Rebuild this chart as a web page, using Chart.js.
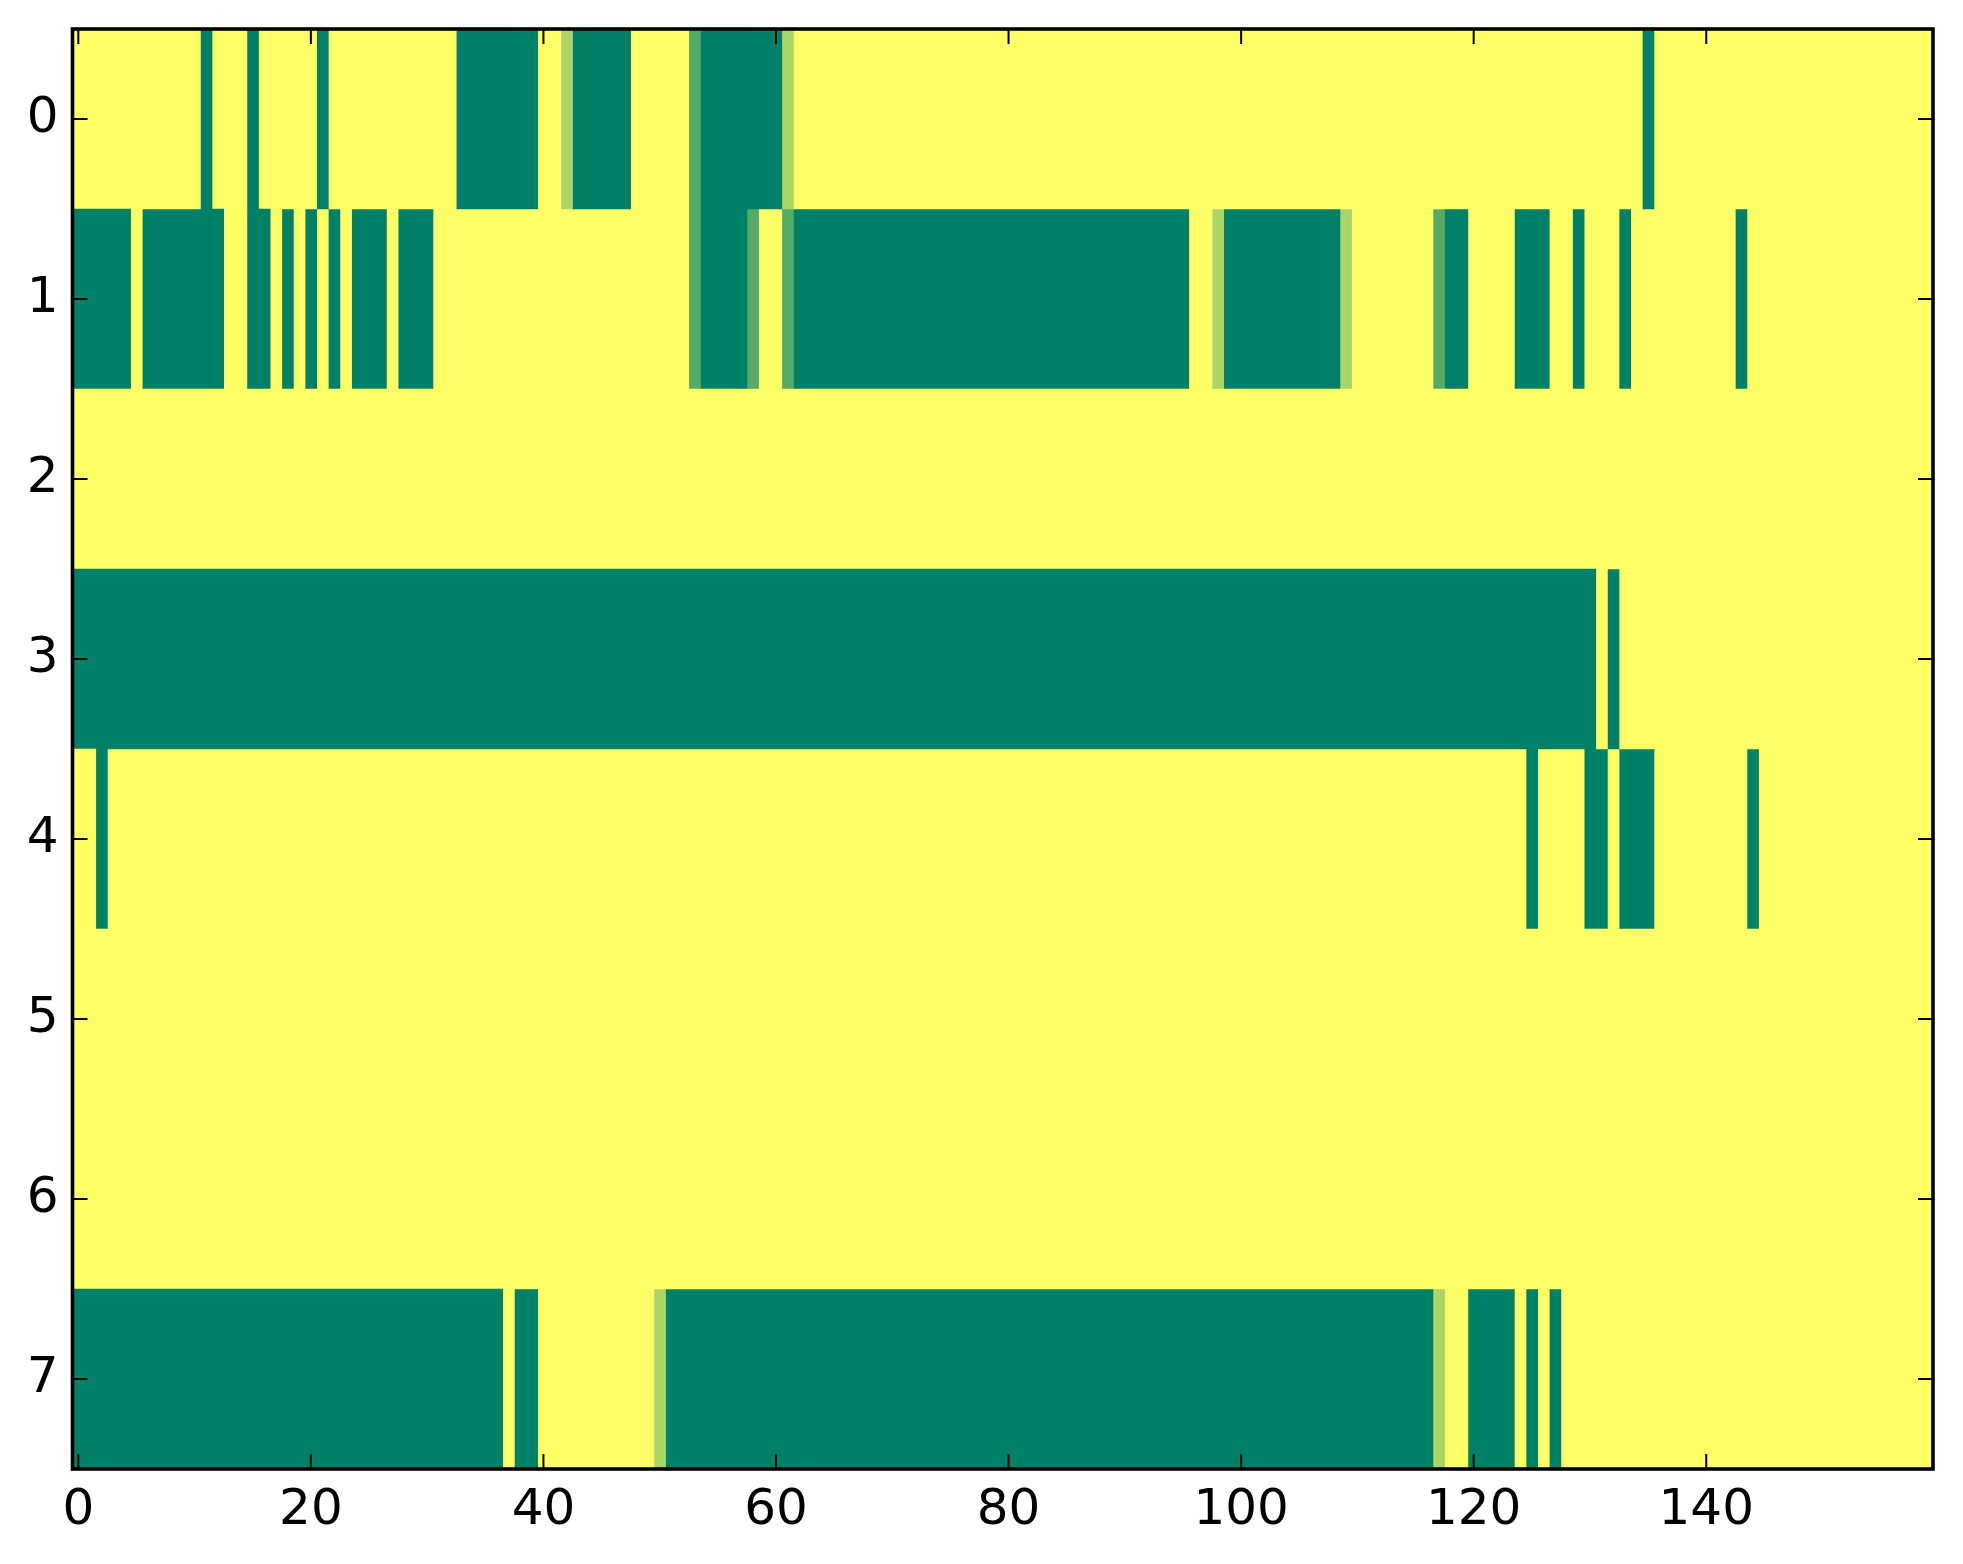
<!DOCTYPE html>
<html>
<head>
<meta charset="utf-8">
<script src="https://cdn.jsdelivr.net/npm/chart.js@4/dist/chart.umd.min.js"></script>
<style>
  html, body { margin: 0; padding: 0; background: #ffffff; }
  #wrap { width: 1963px; height: 1564px; position: relative; }
</style>
</head>
<body>
<div id="wrap"><canvas id="c"></canvas></div>
<script>
// Row labels (y categories) and x tick labels
const rowLabels = ['0', '1', '2', '3', '4', '5', '6', '7'];
const xTicks = [0, 20, 40, 60, 80, 100, 120, 140];
const xMin = -0.5, xMax = 159.5;

// Cell values per row (160 columns each)
const row0 = [
  1,1,1,1,1,1,1,1,1,1, 1,0,1,1,1,0,1,1,1,1,
  1,0,1,1,1,1,1,1,1,1, 1,1,1,0,0,0,0,0,0,0,
  1,1,.67,0,0,0,0,0,1,1, 1,1,1,.33,0,0,0,0,0,0,
  0,.67,1,1,1,1,1,1,1,1, 1,1,1,1,1,1,1,1,1,1,
  1,1,1,1,1,1,1,1,1,1, 1,1,1,1,1,1,1,1,1,1,
  1,1,1,1,1,1,1,1,1,1, 1,1,1,1,1,1,1,1,1,1,
  1,1,1,1,1,1,1,1,1,1, 1,1,1,1,1,0,1,1,1,1,
  1,1,1,1,1,1,1,1,1,1, 1,1,1,1,1,1,1,1,1,1
];
const row1 = [
  0,0,0,0,0,1,0,0,0,0, 0,0,0,1,1,0,0,1,0,1,
  0,1,0,1,0,0,0,1,0,0, 0,1,1,1,1,1,1,1,1,1,
  1,1,1,1,1,1,1,1,1,1, 1,1,1,.33,0,0,0,0,.33,1,
  1,.33,0,0,0,0,0,0,0,0, 0,0,0,0,0,0,0,0,0,0,
  0,0,0,0,0,0,0,0,0,0, 0,0,0,0,0,0,1,1,.67,0,
  0,0,0,0,0,0,0,0,0,.67, 1,1,1,1,1,1,1,.33,0,0,
  1,1,1,1,0,0,0,1,1,0, 1,1,1,0,1,1,1,1,1,1,
  1,1,1,0,1,1,1,1,1,1, 1,1,1,1,1,1,1,1,1,1
];
const row2 = [
  1,1,1,1,1,1,1,1,1,1, 1,1,1,1,1,1,1,1,1,1,
  1,1,1,1,1,1,1,1,1,1, 1,1,1,1,1,1,1,1,1,1,
  1,1,1,1,1,1,1,1,1,1, 1,1,1,1,1,1,1,1,1,1,
  1,1,1,1,1,1,1,1,1,1, 1,1,1,1,1,1,1,1,1,1,
  1,1,1,1,1,1,1,1,1,1, 1,1,1,1,1,1,1,1,1,1,
  1,1,1,1,1,1,1,1,1,1, 1,1,1,1,1,1,1,1,1,1,
  1,1,1,1,1,1,1,1,1,1, 1,1,1,1,1,1,1,1,1,1,
  1,1,1,1,1,1,1,1,1,1, 1,1,1,1,1,1,1,1,1,1
];
const row3 = [
  0,0,0,0,0,0,0,0,0,0, 0,0,0,0,0,0,0,0,0,0,
  0,0,0,0,0,0,0,0,0,0, 0,0,0,0,0,0,0,0,0,0,
  0,0,0,0,0,0,0,0,0,0, 0,0,0,0,0,0,0,0,0,0,
  0,0,0,0,0,0,0,0,0,0, 0,0,0,0,0,0,0,0,0,0,
  0,0,0,0,0,0,0,0,0,0, 0,0,0,0,0,0,0,0,0,0,
  0,0,0,0,0,0,0,0,0,0, 0,0,0,0,0,0,0,0,0,0,
  0,0,0,0,0,0,0,0,0,0, 0,1,0,1,1,1,1,1,1,1,
  1,1,1,1,1,1,1,1,1,1, 1,1,1,1,1,1,1,1,1,1
];
const row4 = [
  1,1,0,1,1,1,1,1,1,1, 1,1,1,1,1,1,1,1,1,1,
  1,1,1,1,1,1,1,1,1,1, 1,1,1,1,1,1,1,1,1,1,
  1,1,1,1,1,1,1,1,1,1, 1,1,1,1,1,1,1,1,1,1,
  1,1,1,1,1,1,1,1,1,1, 1,1,1,1,1,1,1,1,1,1,
  1,1,1,1,1,1,1,1,1,1, 1,1,1,1,1,1,1,1,1,1,
  1,1,1,1,1,1,1,1,1,1, 1,1,1,1,1,1,1,1,1,1,
  1,1,1,1,1,0,1,1,1,1, 0,0,1,0,0,0,1,1,1,1,
  1,1,1,1,0,1,1,1,1,1, 1,1,1,1,1,1,1,1,1,1
];
const row5 = [
  1,1,1,1,1,1,1,1,1,1, 1,1,1,1,1,1,1,1,1,1,
  1,1,1,1,1,1,1,1,1,1, 1,1,1,1,1,1,1,1,1,1,
  1,1,1,1,1,1,1,1,1,1, 1,1,1,1,1,1,1,1,1,1,
  1,1,1,1,1,1,1,1,1,1, 1,1,1,1,1,1,1,1,1,1,
  1,1,1,1,1,1,1,1,1,1, 1,1,1,1,1,1,1,1,1,1,
  1,1,1,1,1,1,1,1,1,1, 1,1,1,1,1,1,1,1,1,1,
  1,1,1,1,1,1,1,1,1,1, 1,1,1,1,1,1,1,1,1,1,
  1,1,1,1,1,1,1,1,1,1, 1,1,1,1,1,1,1,1,1,1
];
const row6 = [
  1,1,1,1,1,1,1,1,1,1, 1,1,1,1,1,1,1,1,1,1,
  1,1,1,1,1,1,1,1,1,1, 1,1,1,1,1,1,1,1,1,1,
  1,1,1,1,1,1,1,1,1,1, 1,1,1,1,1,1,1,1,1,1,
  1,1,1,1,1,1,1,1,1,1, 1,1,1,1,1,1,1,1,1,1,
  1,1,1,1,1,1,1,1,1,1, 1,1,1,1,1,1,1,1,1,1,
  1,1,1,1,1,1,1,1,1,1, 1,1,1,1,1,1,1,1,1,1,
  1,1,1,1,1,1,1,1,1,1, 1,1,1,1,1,1,1,1,1,1,
  1,1,1,1,1,1,1,1,1,1, 1,1,1,1,1,1,1,1,1,1
];
const row7 = [
  0,0,0,0,0,0,0,0,0,0, 0,0,0,0,0,0,0,0,0,0,
  0,0,0,0,0,0,0,0,0,0, 0,0,0,0,0,0,0,1,0,0,
  1,1,1,1,1,1,1,1,1,1, .67,0,0,0,0,0,0,0,0,0,
  0,0,0,0,0,0,0,0,0,0, 0,0,0,0,0,0,0,0,0,0,
  0,0,0,0,0,0,0,0,0,0, 0,0,0,0,0,0,0,0,0,0,
  0,0,0,0,0,0,0,0,0,0, 0,0,0,0,0,0,0,.67,1,1,
  0,0,0,0,1,0,1,0,1,1, 1,1,1,1,1,1,1,1,1,1,
  1,1,1,1,1,1,1,1,1,1, 1,1,1,1,1,1,1,1,1,1
];
const rows = [row0, row1, row2, row3, row4, row5, row6, row7];

// "summer" colormap: value 0 -> green, 1 -> yellow
function summer(v) {
  const r = Math.round(255 * v);
  const g = Math.round(255 * (0.5 + 0.5 * v));
  const b = Math.round(255 * 0.4);
  return `rgb(${r},${g},${b})`;
}

// Group each row into runs of equal value (one floating bar per run)
const rowRuns = rows.map(vals => {
  const runs = [];
  let start = 0;
  for (let i = 1; i <= vals.length; i++) {
    if (i === vals.length || vals[i] !== vals[start]) {
      runs.push({ from: start, to: i - 1, v: vals[start] });
      start = i;
    }
  }
  return runs;
});
const maxRuns = Math.max(...rowRuns.map(r => r.length));
const datasets = [];
for (let k = 0; k < maxRuns; k++) {
  datasets.push({
    data: rowRuns.map(r => r[k] ? [r[k].from - 0.5, r[k].to + 0.5] : null),
    backgroundColor: rowRuns.map(r => r[k] ? summer(r[k].v) : 'rgba(0,0,0,0)'),
    borderWidth: 0,
    borderSkipped: false,
    barPercentage: 1.0,
    categoryPercentage: 1.0,
    grouped: false
  });
}

const FONT = { family: 'DejaVu Sans', size: 50 };

const framePlugin = {
  id: 'frame',
  afterDatasetsDraw(chart) {
    const { ctx, chartArea: a, scales } = chart;
    ctx.save();
    ctx.strokeStyle = '#000';
    ctx.lineWidth = 2;
    const L = 15;
    ctx.beginPath();
    xTicks.forEach(t => {
      const px = scales.x.getPixelForValue(t);
      ctx.moveTo(px, a.bottom); ctx.lineTo(px, a.bottom - L);
      ctx.moveTo(px, a.top); ctx.lineTo(px, a.top + L);
    });
    rowLabels.forEach((lab, i) => {
      const py = scales.y.getPixelForValue(i);
      ctx.moveTo(a.left, py); ctx.lineTo(a.left + L, py);
      ctx.moveTo(a.right, py); ctx.lineTo(a.right - L, py);
    });
    ctx.stroke();
    ctx.lineWidth = 3.6;
    ctx.strokeRect(a.left, a.top, a.right - a.left, a.bottom - a.top);
    ctx.restore();
  }
};

new Chart(document.getElementById('c'), {
  type: 'bar',
  data: { labels: rowLabels, datasets },
  options: {
    indexAxis: 'y',
    responsive: true,
    maintainAspectRatio: false,
    animation: false,
    layout: { padding: { left: 0, top: 29, right: 30, bottom: 0 } },
    plugins: { legend: { display: false }, tooltip: { enabled: false } },
    scales: {
      x: {
        type: 'linear',
        min: xMin,
        max: xMax,
        afterBuildTicks: s => { s.ticks = xTicks.map(v => ({ value: v })); },
        afterFit: s => { s.height = 95; s.paddingLeft = 0; s.paddingRight = 0; },
        ticks: { font: FONT, color: '#000', padding: 12, autoSkip: false, maxRotation: 0 },
        grid: { display: false, drawTicks: false },
        border: { display: false }
      },
      y: {
        type: 'category',
        afterFit: s => { s.width = 72.5; s.paddingTop = 0; s.paddingBottom = 0; },
        ticks: { font: FONT, color: '#000', padding: 14 },
        grid: { display: false, drawTicks: false },
        border: { display: false }
      }
    }
  },
  plugins: [framePlugin]
});
</script>
</body>
</html>
